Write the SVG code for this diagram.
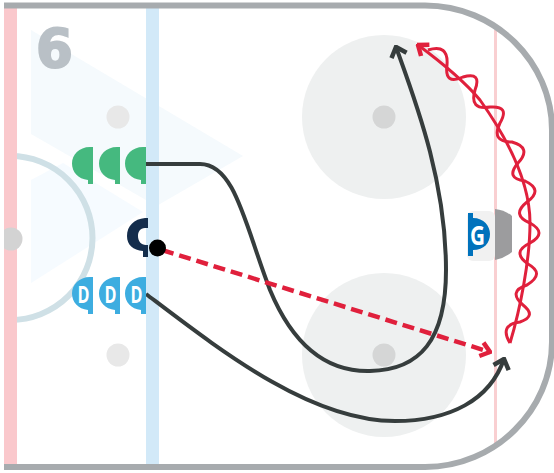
<svg xmlns="http://www.w3.org/2000/svg" width="554" height="473" viewBox="0 0 554 473">
<style>
.conn{fill:none;stroke:#363d3d;stroke-width:4}
.red{fill:none;stroke:#e0203c}
.pl{font-family:"Open Sans","Liberation Sans",sans-serif;font-weight:bold;font-size:23px;fill:#fff}
</style>
<defs>
<marker id="ah" markerUnits="userSpaceOnUse" viewBox="-12 -10 14 20" refX="0" refY="0" markerWidth="14" markerHeight="20" orient="auto"><path d="M-9 -8L0 0L-9 8" fill="none" stroke="#363d3d" stroke-width="4.500"/></marker>
<marker id="ar" markerUnits="userSpaceOnUse" viewBox="-12 -10 14 20" refX="0" refY="0" markerWidth="14" markerHeight="20" orient="auto"><path d="M-9 -7L0 0L-9 7" fill="none" stroke="#e0203c" stroke-width="4.500"/></marker>
<path id="p" d="M0 0V37H-5V33C-15 32-21 25-21 16.500C-21 8-14 0-3 0Z"/>
</defs>
<g id="rink">
<rect width="554" height="473" fill="#fff"/>
<path d="M31 30L243 156L153 208L146 200L31 134Z" fill="#f5fafd"/>
<path d="M31 180L63 163L143 212L31 283Z" fill="#f6fbff"/>
<circle cx="384" cy="117" r="82" fill="#eef0f0"/>
<circle cx="384" cy="355" r="82" fill="#eef0f0"/>
<circle cx="384" cy="117" r="11.500" fill="#d5d6d6"/>
<circle cx="384" cy="355" r="11.500" fill="#d5d6d6"/>
<circle cx="118" cy="117" r="11.500" fill="#e8e8e8"/>
<circle cx="118" cy="355" r="11.500" fill="#e8e8e8"/>
<circle cx="10.500" cy="238" r="82" fill="none" stroke="#cfe0e6" stroke-width="6"/>
<rect x="4" y="8" width="13" height="457" fill="#fac8cc"/>
<circle cx="11" cy="239" r="11.500" fill="#d3d3d3"/>
<rect x="0" y="0" width="4" height="473" fill="#fff"/>
<rect x="146" y="8" width="13" height="457" fill="#d2e9f8"/>
<rect x="494" y="30" width="3" height="415" fill="#f9cfd1"/>
<path d="M4 5.500H425C495 5.500 552 62 552 130V342C552 410 495 467 425 467H4" fill="none" stroke="#a7abae" stroke-width="6"/>
<text x="36" y="67" font-family="DejaVu Sans" font-weight="bold" font-size="53" fill="#b9c0c6" stroke="#b9c0c6" stroke-width="2">6</text>
<rect x="467" y="211" width="28" height="50" rx="6" fill="#f1f1f1"/>
<path d="M495 209Q505 210 512 216V252Q505 258 495 260Z" fill="#9c9c9e"/>
</g>
<g id="connectors">
<path class="conn" marker-end="url(#ah)" d="M146 164H200C235 164 245 225 270 290C295 350 330 372 370 371C420 370 446 340 446 270C446 180 415 100 396 47"/>
<path class="conn" marker-end="url(#ah)" d="M146 294C220 350 310 421 395 421C450 421 490 400 504 359"/>
<path class="red" stroke-width="4.500" stroke-dasharray="12 6" marker-end="url(#ar)" d="M162 250L490 352"/>
<path class="red" stroke-width="3" marker-end="url(#ar)" d="M510 343C520 310 530 260 530 223C530 180 505 135 480 100C465 82 445 65 418 45"/>
<path class="red" stroke-width="3" d="M428 50Q448.700 43.400 447 65Q444.200 85.400 463 77Q482.100 71.300 475 90Q469 110.400 490 107Q510.300 105.500 500 123Q490.700 142 512 142Q532.300 147.600 518 163Q504.800 178.500 525 181Q543.900 189.700 527 202Q510.700 215 530 223Q548 233 530 243Q511 252 528 264Q545.500 273.600 527 285Q507.400 291.400 523 305Q537.200 316.200 520 322Q498.800 324.800 510 343"/>
</g>
<g id="player-w1" fill="#45b97f"><use href="#p" x="93" y="147"/></g>
<g id="player-w2" fill="#45b97f"><use href="#p" x="120" y="147"/></g>
<g id="player-w3" fill="#45b97f"><use href="#p" x="146" y="147"/></g>
<g id="player-d1" fill="#3dade0"><use href="#p" x="93" y="277"/><text class="pl" x="77.500" y="303" textLength="12" lengthAdjust="spacingAndGlyphs">D</text></g>
<g id="player-d2" fill="#3dade0"><use href="#p" x="120" y="277"/><text class="pl" x="104.500" y="303" textLength="12" lengthAdjust="spacingAndGlyphs">D</text></g>
<g id="player-d3" fill="#3dade0"><use href="#p" x="146" y="277"/><text class="pl" x="130.500" y="303" textLength="12" lengthAdjust="spacingAndGlyphs">D</text></g>
<g id="player-c"><path fill="#142d4c" d="M148 218V228H145C140 228 138 232 138 236C138 241 141 245 146 245H148V257H143V251C133 250 127 245 127 236C127 226 134 219 145 218Z"/><circle cx="157.500" cy="248" r="8.500" fill="#000"/></g>
<g id="player-g"><path fill="#0072bc" d="M468 213H473V218C484 218 490 226 490 234C490 243 484 250 473 250V256H468Z"/><text class="pl" x="470" y="245" style="font-size:26px" textLength="15" lengthAdjust="spacingAndGlyphs">G</text></g>
</svg>
